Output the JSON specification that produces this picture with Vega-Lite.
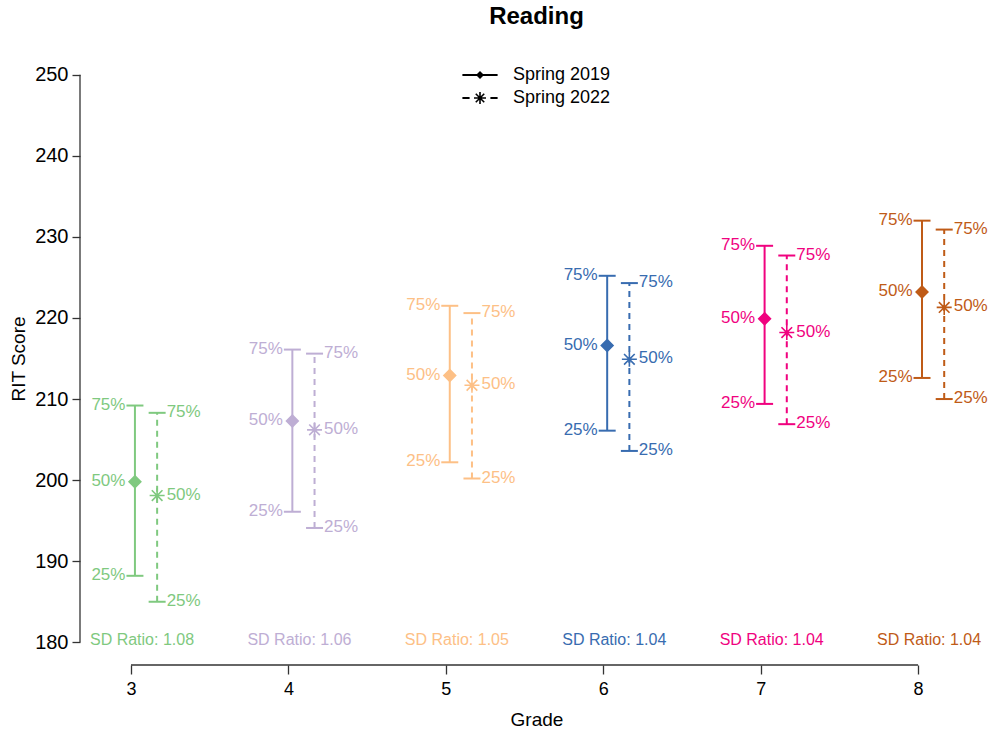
{
  "$schema": "https://vega.github.io/schema/vega-lite/v6.json",
  "width": 913,
  "height": 613,
  "autosize": {"type": "none"},
  "padding": {"left": 80, "top": 52, "right": 0, "bottom": 70},
  "background": "white",
  "config": {
    "view": {"stroke": null},
    "font": "Liberation Sans",
    "text": {"font": "Liberation Sans"},
    "axisX": {"domain": false, "grid": false, "tickColor": "#333", "tickSize": 9, "tickWidth": 1.3, "labelFontSize": 18, "labelFont": "Liberation Sans", "labelColor": "black", "labelPadding": 6, "titleFontSize": 19, "titleFont": "Liberation Sans", "titleFontWeight": "normal", "titleColor": "black", "titlePadding": 12},
    "axisY": {"domain": false, "grid": false, "tickColor": "#333", "tickSize": 8, "tickWidth": 1.3, "labelFontSize": 20, "labelFont": "Liberation Sans", "labelColor": "black", "labelPadding": 4, "titleFontSize": 19, "titleFont": "Liberation Sans", "titleFontWeight": "normal", "titleColor": "black", "titlePadding": 6}
  },
  "title": {"text": "Reading", "fontSize": 24, "fontWeight": "bold", "font": "Liberation Sans", "color": "black", "offset": 23, "anchor": "middle"},
  "resolve": {"scale": {"shape": "independent"}},
  "datasets": {
    "q": [
      {"grade": 3, "year": "Spring 2019", "x": 3.025, "25%": 188.2, "50%": 199.8, "75%": 209.2},
      {"grade": 3, "year": "Spring 2022", "x": 3.166, "25%": 185.0, "50%": 198.1, "75%": 208.3},
      {"grade": 4, "year": "Spring 2019", "x": 4.025, "25%": 196.1, "50%": 207.3, "75%": 216.1},
      {"grade": 4, "year": "Spring 2022", "x": 4.166, "25%": 194.1, "50%": 206.2, "75%": 215.6},
      {"grade": 5, "year": "Spring 2019", "x": 5.025, "25%": 202.2, "50%": 212.9, "75%": 221.5},
      {"grade": 5, "year": "Spring 2022", "x": 5.166, "25%": 200.2, "50%": 211.7, "75%": 220.6},
      {"grade": 6, "year": "Spring 2019", "x": 6.025, "25%": 206.1, "50%": 216.6, "75%": 225.2},
      {"grade": 6, "year": "Spring 2022", "x": 6.166, "25%": 203.6, "50%": 214.9, "75%": 224.3},
      {"grade": 7, "year": "Spring 2019", "x": 7.025, "25%": 209.4, "50%": 219.9, "75%": 228.9},
      {"grade": 7, "year": "Spring 2022", "x": 7.166, "25%": 206.9, "50%": 218.2, "75%": 227.7},
      {"grade": 8, "year": "Spring 2019", "x": 8.025, "25%": 212.6, "50%": 223.2, "75%": 232.0},
      {"grade": 8, "year": "Spring 2022", "x": 8.166, "25%": 210.0, "50%": 221.3, "75%": 230.9}
    ],
    "sd": [
      {"grade": 3, "sx": 3.07, "label": "SD Ratio: 1.08"},
      {"grade": 4, "sx": 4.07, "label": "SD Ratio: 1.06"},
      {"grade": 5, "sx": 5.07, "label": "SD Ratio: 1.05"},
      {"grade": 6, "sx": 6.07, "label": "SD Ratio: 1.04"},
      {"grade": 7, "sx": 7.07, "label": "SD Ratio: 1.04"},
      {"grade": 8, "sx": 8.07, "label": "SD Ratio: 1.04"}
    ]
  },
  "layer": [
    {
      "data": {"name": "q"},
      "transform": [{"filter": "datum.year === 'Spring 2019'"}],
      "mark": {"type": "rule", "strokeWidth": 2},
      "encoding": {
        "x": {"field": "x", "type": "quantitative", "scale": {"domain": [2.676, 8.476], "nice": false, "zero": false}, "axis": {"title": "Grade", "values": [3, 4, 5, 6, 7, 8]}},
        "y": {"field": "25%", "type": "quantitative", "scale": {"domain": [177.2, 252.8], "nice": false, "zero": false}, "axis": {"title": "RIT Score", "values": [180, 190, 200, 210, 220, 230, 240, 250]}},
        "y2": {"field": "75%"},
        "color": {"field": "grade", "type": "nominal", "scale": {"domain": [3, 4, 5, 6, 7, 8], "range": ["#7FC97F", "#BEAED4", "#FDC086", "#386CB0", "#F0027F", "#BF5B17"]}, "legend": null}
      }
    },
    {
      "data": {"name": "q"},
      "transform": [{"filter": "datum.year === 'Spring 2022'"}],
      "mark": {"type": "rule", "strokeWidth": 2, "strokeDash": [6, 5]},
      "encoding": {
        "x": {"field": "x", "type": "quantitative", "scale": {"domain": [2.676, 8.476], "nice": false, "zero": false}, "axis": {"title": "Grade", "values": [3, 4, 5, 6, 7, 8]}},
        "y": {"field": "25%", "type": "quantitative", "scale": {"domain": [177.2, 252.8], "nice": false, "zero": false}, "axis": {"title": "RIT Score", "values": [180, 190, 200, 210, 220, 230, 240, 250]}},
        "y2": {"field": "75%"},
        "color": {"field": "grade", "type": "nominal", "scale": {"domain": [3, 4, 5, 6, 7, 8], "range": ["#7FC97F", "#BEAED4", "#FDC086", "#386CB0", "#F0027F", "#BF5B17"]}, "legend": null}
      }
    },
    {
      "data": {"values": [{}]},
      "mark": {"type": "rule", "color": "#333", "strokeWidth": 1.3},
      "encoding": {
        "x": {"datum": 2.676, "type": "quantitative", "scale": {"domain": [2.676, 8.476], "nice": false, "zero": false}, "axis": {"title": "Grade", "values": [3, 4, 5, 6, 7, 8]}},
        "y": {"datum": 180, "type": "quantitative", "scale": {"domain": [177.2, 252.8], "nice": false, "zero": false}, "axis": {"title": "RIT Score", "values": [180, 190, 200, 210, 220, 230, 240, 250]}},
        "y2": {"datum": 250}
      }
    },
    {
      "data": {"values": [{}]},
      "mark": {"type": "rule", "color": "#333", "strokeWidth": 1.3},
      "encoding": {
        "x": {"datum": 3, "type": "quantitative", "scale": {"domain": [2.676, 8.476], "nice": false, "zero": false}, "axis": {"title": "Grade", "values": [3, 4, 5, 6, 7, 8]}},
        "x2": {"datum": 8},
        "y": {"datum": 177.2, "type": "quantitative", "scale": {"domain": [177.2, 252.8], "nice": false, "zero": false}, "axis": {"title": "RIT Score", "values": [180, 190, 200, 210, 220, 230, 240, 250]}}
      }
    },
    {
      "data": {"name": "q"},
      "mark": {"type": "tick", "orient": "horizontal", "size": 17, "thickness": 2, "opacity": 1},
      "encoding": {
        "x": {"field": "x", "type": "quantitative", "scale": {"domain": [2.676, 8.476], "nice": false, "zero": false}, "axis": {"title": "Grade", "values": [3, 4, 5, 6, 7, 8]}},
        "y": {"field": "25%", "type": "quantitative", "scale": {"domain": [177.2, 252.8], "nice": false, "zero": false}, "axis": {"title": "RIT Score", "values": [180, 190, 200, 210, 220, 230, 240, 250]}},
        "color": {"field": "grade", "type": "nominal", "scale": {"domain": [3, 4, 5, 6, 7, 8], "range": ["#7FC97F", "#BEAED4", "#FDC086", "#386CB0", "#F0027F", "#BF5B17"]}, "legend": null}
      }
    },
    {
      "data": {"name": "q"},
      "mark": {"type": "tick", "orient": "horizontal", "size": 17, "thickness": 2, "opacity": 1},
      "encoding": {
        "x": {"field": "x", "type": "quantitative", "scale": {"domain": [2.676, 8.476], "nice": false, "zero": false}, "axis": {"title": "Grade", "values": [3, 4, 5, 6, 7, 8]}},
        "y": {"field": "75%", "type": "quantitative", "scale": {"domain": [177.2, 252.8], "nice": false, "zero": false}, "axis": {"title": "RIT Score", "values": [180, 190, 200, 210, 220, 230, 240, 250]}},
        "color": {"field": "grade", "type": "nominal", "scale": {"domain": [3, 4, 5, 6, 7, 8], "range": ["#7FC97F", "#BEAED4", "#FDC086", "#386CB0", "#F0027F", "#BF5B17"]}, "legend": null}
      }
    },
    {
      "data": {"name": "q"},
      "mark": {"type": "point", "filled": false, "opacity": 1, "strokeWidth": 1.6, "size": 225},
      "encoding": {
        "x": {"field": "x", "type": "quantitative", "scale": {"domain": [2.676, 8.476], "nice": false, "zero": false}, "axis": {"title": "Grade", "values": [3, 4, 5, 6, 7, 8]}},
        "y": {"field": "50%", "type": "quantitative", "scale": {"domain": [177.2, 252.8], "nice": false, "zero": false}, "axis": {"title": "RIT Score", "values": [180, 190, 200, 210, 220, 230, 240, 250]}},
        "color": {"field": "grade", "type": "nominal", "scale": {"domain": [3, 4, 5, 6, 7, 8], "range": ["#7FC97F", "#BEAED4", "#FDC086", "#386CB0", "#F0027F", "#BF5B17"]}, "legend": null},
        "fill": {"field": "grade", "type": "nominal", "scale": {"domain": [3, 4, 5, 6, 7, 8], "range": ["#7FC97F", "#BEAED4", "#FDC086", "#386CB0", "#F0027F", "#BF5B17"]}, "legend": null},
        "shape": {"field": "year", "type": "nominal",
          "scale": {"domain": ["Spring 2019", "Spring 2022"], "range": ["M0,-0.78L0.78,0L0,0.78L-0.78,0Z", "M-1,0L1,0M0,-1L0,1M-0.71,-0.71L0.71,0.71M-0.71,0.71L0.71,-0.71"]},
          "legend": null}
      }
    },
    {
      "data": {"name": "q"},
      "transform": [{"filter": "false"}],
      "mark": {"type": "point", "filled": true, "fill": "black", "opacity": 1, "size": 256},
      "encoding": {
        "x": {"field": "x", "type": "quantitative", "scale": {"domain": [2.676, 8.476], "nice": false, "zero": false}, "axis": {"title": "Grade", "values": [3, 4, 5, 6, 7, 8]}},
        "y": {"field": "50%", "type": "quantitative", "scale": {"domain": [177.2, 252.8], "nice": false, "zero": false}, "axis": {"title": "RIT Score", "values": [180, 190, 200, 210, 220, 230, 240, 250]}},
        "shape": {"field": "year", "type": "nominal",
          "scale": {"domain": ["Spring 2019", "Spring 2022"], "range": [
            "M-2.2,-0.12H2.2V0.12H-2.2ZM0,-0.5L0.5,0L0,0.5L-0.5,0Z",
            "M-2.2,-0.12H-1.3V0.12H-2.2ZM1.3,-0.12H2.2V0.12H1.3ZM-0.75,-0.1H0.75V0.1H-0.75ZM-0.1,-0.75H0.1V0.75H-0.1ZM-0.46,-0.6L0.6,0.46L0.46,0.6L-0.6,-0.46ZM-0.6,0.46L0.46,-0.6L0.6,-0.46L-0.46,0.6Z"]},
          "legend": {"title": null, "orient": "none", "legendX": 391, "legendY": 14, "padding": 0, "symbolSize": 256, "symbolFillColor": "black", "symbolStrokeWidth": 0, "symbolOpacity": 1, "labelOffset": 24, "labelFontSize": 18, "labelFont": "Liberation Sans", "labelColor": "black", "rowPadding": 5}}
      }
    },
    {
      "data": {"name": "q"},
      "transform": [{"filter": "datum.year === 'Spring 2019'"}, {"fold": ["25%", "50%", "75%"], "as": ["pct", "val"]}],
      "mark": {"type": "text", "align": "right", "baseline": "middle", "dx": -9.5, "dy": -1, "fontSize": 17, "font": "Liberation Sans"},
      "encoding": {
        "x": {"field": "x", "type": "quantitative", "scale": {"domain": [2.676, 8.476], "nice": false, "zero": false}, "axis": {"title": "Grade", "values": [3, 4, 5, 6, 7, 8]}},
        "y": {"field": "val", "type": "quantitative", "scale": {"domain": [177.2, 252.8], "nice": false, "zero": false}, "axis": {"title": "RIT Score", "values": [180, 190, 200, 210, 220, 230, 240, 250]}},
        "text": {"field": "pct"},
        "color": {"field": "grade", "type": "nominal", "scale": {"domain": [3, 4, 5, 6, 7, 8], "range": ["#7FC97F", "#BEAED4", "#FDC086", "#386CB0", "#F0027F", "#BF5B17"]}, "legend": null}
      }
    },
    {
      "data": {"name": "q"},
      "transform": [{"filter": "datum.year === 'Spring 2022'"}, {"fold": ["25%", "50%", "75%"], "as": ["pct", "val"]}],
      "mark": {"type": "text", "align": "left", "baseline": "middle", "dx": 9.5, "dy": -1, "fontSize": 17, "font": "Liberation Sans"},
      "encoding": {
        "x": {"field": "x", "type": "quantitative", "scale": {"domain": [2.676, 8.476], "nice": false, "zero": false}, "axis": {"title": "Grade", "values": [3, 4, 5, 6, 7, 8]}},
        "y": {"field": "val", "type": "quantitative", "scale": {"domain": [177.2, 252.8], "nice": false, "zero": false}, "axis": {"title": "RIT Score", "values": [180, 190, 200, 210, 220, 230, 240, 250]}},
        "text": {"field": "pct"},
        "color": {"field": "grade", "type": "nominal", "scale": {"domain": [3, 4, 5, 6, 7, 8], "range": ["#7FC97F", "#BEAED4", "#FDC086", "#386CB0", "#F0027F", "#BF5B17"]}, "legend": null}
      }
    },
    {
      "data": {"name": "sd"},
      "mark": {"type": "text", "align": "center", "baseline": "alphabetic", "dy": 3, "fontSize": 16, "font": "Liberation Sans"},
      "encoding": {
        "x": {"field": "sx", "type": "quantitative", "scale": {"domain": [2.676, 8.476], "nice": false, "zero": false}, "axis": {"title": "Grade", "values": [3, 4, 5, 6, 7, 8]}},
        "y": {"datum": 180, "type": "quantitative", "scale": {"domain": [177.2, 252.8], "nice": false, "zero": false}, "axis": {"title": "RIT Score", "values": [180, 190, 200, 210, 220, 230, 240, 250]}},
        "text": {"field": "label"},
        "color": {"field": "grade", "type": "nominal", "scale": {"domain": [3, 4, 5, 6, 7, 8], "range": ["#7FC97F", "#BEAED4", "#FDC086", "#386CB0", "#F0027F", "#BF5B17"]}, "legend": null}
      }
    }
  ]
}
